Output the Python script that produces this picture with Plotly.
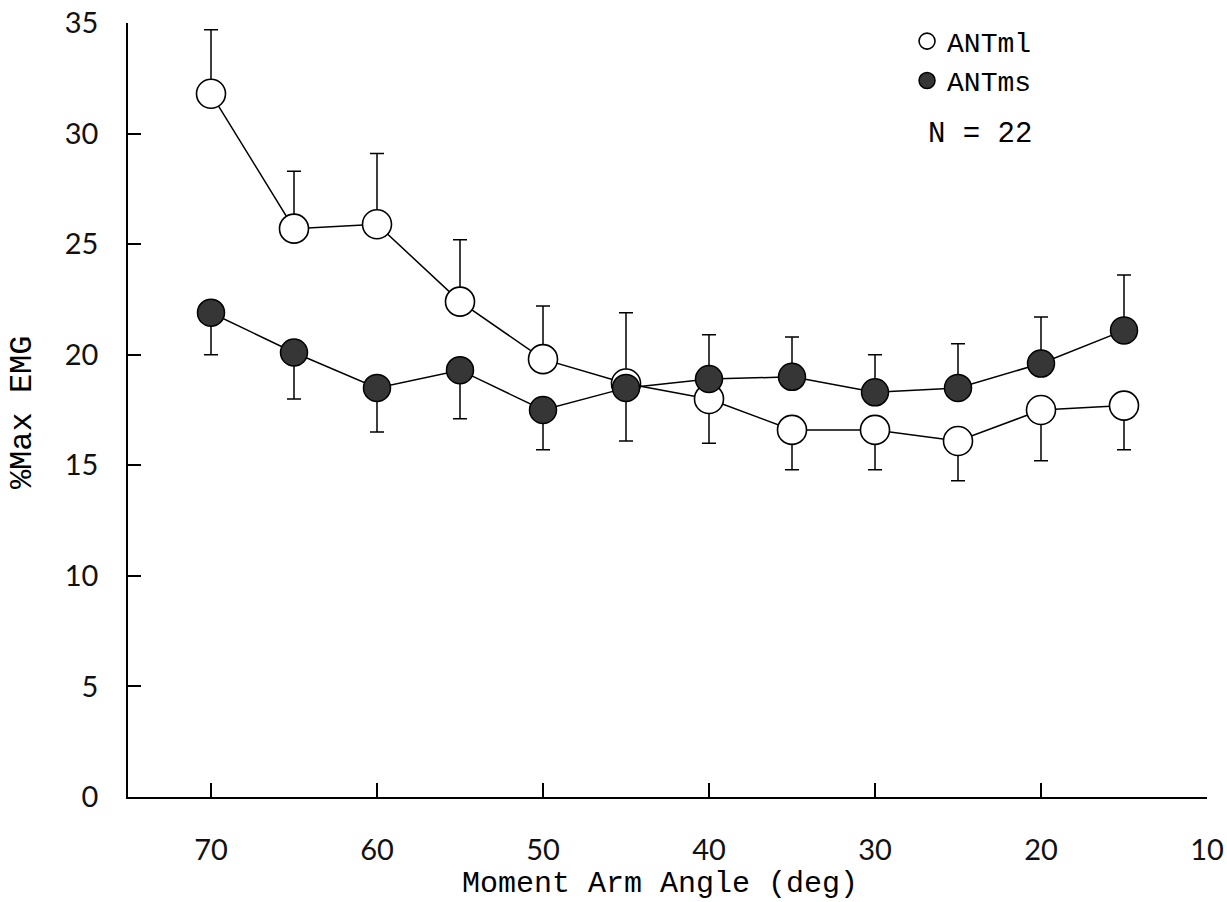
import plotly.graph_objects as go

# ---- data ----
angles = [70, 65, 60, 55, 50, 45, 40, 35, 30, 25, 20, 15]
antml = [31.8, 25.7, 25.9, 22.4, 19.8, 18.7, 18.0, 16.6, 16.6, 16.1, 17.5, 17.7]
antml_err = [2.9, 2.6, 3.2, 2.8, 2.4, 3.2, 2.0, 1.8, 1.8, 1.8, 2.3, 2.0]
antml_side = ["up", "up", "up", "up", "up", "up", "down", "down", "down", "down", "down", "down"]
antms = [21.9, 20.1, 18.5, 19.3, 17.5, 18.5, 18.9, 19.0, 18.3, 18.5, 19.6, 21.1]
antms_err = [1.9, 2.1, 2.0, 2.2, 1.8, 2.4, 2.0, 1.8, 1.7, 2.0, 2.1, 2.5]
antms_side = ["down", "down", "down", "down", "down", "down", "up", "up", "up", "up", "up", "up"]
x_ticks = [70, 60, 50, 40, 30, 20, 10]
y_ticks = [0, 5, 10, 15, 20, 25, 30, 35]
n_label = "N = 22"
y_title = "%Max EMG"
x_title = "Moment Arm Angle (deg)"

MONO = "Liberation Mono, Courier New, monospace"
SANS = "Lato, DejaVu Sans, sans-serif"


def split(err, side):
    plus = [e if s == "up" else 0 for e, s in zip(err, side)]
    minus = [e if s == "down" else 0 for e, s in zip(err, side)]
    return plus, minus


ml_p, ml_m = split(antml_err, antml_side)
ms_p, ms_m = split(antms_err, antms_side)

fig = go.Figure()
fig.add_trace(go.Scatter(
    x=angles, y=antml, mode="lines+markers", name="ANTml", showlegend=False,
    line=dict(color="black", width=1.5),
    marker=dict(size=29, color="white", line=dict(color="black", width=1.6)),
    error_y=dict(type="data", symmetric=False, array=ml_p, arrayminus=ml_m,
                 color="black", thickness=1.5, width=7),
))
fig.add_trace(go.Scatter(
    x=angles, y=antms, mode="lines+markers", name="ANTms", showlegend=False,
    line=dict(color="black", width=1.5),
    marker=dict(size=27, color="#363636", line=dict(color="black", width=1.5)),
    error_y=dict(type="data", symmetric=False, array=ms_p, arrayminus=ms_m,
                 color="black", thickness=1.5, width=7),
))
# legend entries
fig.add_trace(go.Scatter(
    x=[None], y=[None], mode="markers", name="ANTml",
    marker=dict(size=29, color="white", line=dict(color="black", width=1.6)),
))
fig.add_trace(go.Scatter(
    x=[None], y=[None], mode="markers", name="ANTms",
    marker=dict(size=27, color="#363636", line=dict(color="black", width=1.5)),
))

fig.update_layout(
    width=1227, height=902,
    margin=dict(l=128, r=20, t=23, b=105),
    paper_bgcolor="white", plot_bgcolor="white",
    showlegend=True,
    legend=dict(x=0.722, y=1.0085, xanchor="left", yanchor="top",
                font=dict(family=MONO, size=28, color="black"),
                bgcolor="rgba(0,0,0,0)", itemwidth=30, tracegroupgap=0),
    annotations=[
        dict(text=n_label, xref="paper", yref="paper", x=0.790, y=0.856,
             xanchor="center", yanchor="middle", showarrow=False,
             font=dict(family=MONO, size=29, color="black")),
        dict(text=y_title, xref="paper", yref="paper", x=-0.0975, y=0.497,
             xanchor="center", yanchor="middle", showarrow=False, textangle=-90,
             font=dict(family=MONO, size=32, color="black")),
        dict(text=x_title, xref="paper", yref="paper", x=0.4935, y=-0.112,
             xanchor="center", yanchor="middle", showarrow=False,
             font=dict(family=MONO, size=30, color="black")),
    ],
)
fig.update_xaxes(
    range=[75, 10], tickvals=x_ticks, ticktext=[str(v) for v in x_ticks],
    showline=True, linecolor="black", linewidth=1.5,
    ticks="inside", ticklen=14, tickwidth=1.5, tickcolor="black",
    showgrid=False, zeroline=False, automargin=False,
    tickfont=dict(family=SANS, size=29, color="#111"), ticklabelstandoff=26,
)
fig.update_yaxes(
    range=[0, 35], tickvals=y_ticks, ticktext=[str(v) for v in y_ticks],
    showline=True, linecolor="black", linewidth=1.5,
    ticks="inside", ticklen=13, tickwidth=1.5, tickcolor="black",
    showgrid=False, zeroline=False, automargin=False,
    tickfont=dict(family=SANS, size=29, color="#111"), ticklabelstandoff=22,
)

fig.write_html("out.html")
